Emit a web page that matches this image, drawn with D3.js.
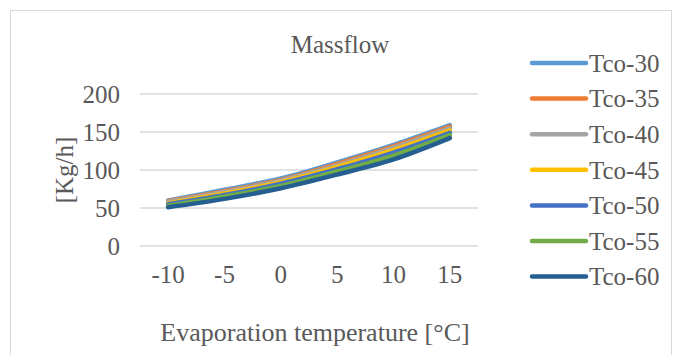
<!DOCTYPE html>
<html>
<head>
<meta charset="utf-8">
<script src="https://cdn.jsdelivr.net/npm/d3@7"></script>
<style>
  body { margin: 0; background: #fff; }
  text { font-family: "Liberation Serif", "Times New Roman", serif; fill: #595959; }
</style>
</head>
<body>
<div id="main"></div>
<script>
// evaporation temperatures (categories)
const temps = ['-10', '-5', '0', '5', '10', '15'];
const seriesNames = ['Tco-30', 'Tco-35', 'Tco-40', 'Tco-45', 'Tco-50', 'Tco-55', 'Tco-60'];
const colors = ['#5B9BD5', '#ED7D31', '#A5A5A5', '#FFC000', '#4472C4', '#70AD47', '#255E91'];

const tco30 = [60, 74, 89, 110, 133, 159];
const tco35 = [59, 72, 87, 108, 131, 157];
const tco40 = [58, 71, 86, 106, 129, 155];
const tco45 = [56, 69, 84, 104, 126, 152];
const tco50 = [55, 67, 82, 101, 123, 149];
const tco55 = [53, 65, 79, 98, 119, 146];
const tco60 = [51, 62, 76, 94, 114, 142];

const yTicks = [0, 50, 100, 150, 200];

const allSeries = [tco30, tco35, tco40, tco45, tco50, tco55, tco60];

const W = 674, H = 355;
const margin = { top: 94, left: 140, right: 196, bottom: 109 };
const plotW = W - margin.left - margin.right;
const plotH = H - margin.top - margin.bottom;

const svg = d3.select('#main').append('svg')
  .attr('width', W)
  .attr('height', H);

// chart border
svg.append('rect')
  .attr('x', 10.5).attr('y', 10.5)
  .attr('width', 661).attr('height', 360)
  .attr('fill', 'none')
  .attr('stroke', '#d9d9d9')
  .attr('stroke-width', 1);

const g = svg.append('g')
  .attr('transform', 'translate(' + margin.left + ',' + margin.top + ')');

const x = d3.scalePoint()
  .domain(temps)
  .range([0, plotW])
  .padding(0.5);

const y = d3.scaleLinear()
  .domain([0, 200])
  .range([plotH, 0]);

// gridlines
g.selectAll('.grid')
  .data(yTicks)
.enter().append('line')
  .attr('class', 'grid')
  .attr('x1', 0).attr('x2', plotW)
  .attr('y1', d => y(d)).attr('y2', d => y(d))
  .attr('stroke', '#d9d9d9')
  .attr('stroke-width', 1.3);

// y tick labels
g.selectAll('.ylab')
  .data(yTicks)
.enter().append('text')
  .attr('class', 'ylab')
  .attr('x', -20)
  .attr('y', d => y(d))
  .attr('dy', '0.35em')
  .attr('text-anchor', 'end')
  .attr('font-size', 25)
  .text(d => d);

// x tick labels
g.selectAll('.xlab')
  .data(temps)
.enter().append('text')
  .attr('class', 'xlab')
  .attr('x', d => x(d))
  .attr('y', plotH + 37)
  .attr('text-anchor', 'middle')
  .attr('font-size', 25)
  .text(d => d);

// series lines
const line = d3.line()
  .x((d, i) => x(temps[i]))
  .y(d => y(d))
  .curve(d3.curveCatmullRom.alpha(0.5));

allSeries.forEach((s, i) => {
  g.append('path')
    .datum(s)
    .attr('d', line)
    .attr('fill', 'none')
    .attr('stroke', colors[i])
    .attr('stroke-width', 4.5)
    .attr('stroke-linecap', 'round')
    .attr('stroke-linejoin', 'round');
});

// title
svg.append('text')
  .attr('x', 340)
  .attr('y', 53)
  .attr('text-anchor', 'middle')
  .attr('font-size', 25)
  .text('Massflow');

// axis titles
svg.append('text')
  .attr('x', 315)
  .attr('y', 341)
  .attr('text-anchor', 'middle')
  .attr('font-size', 26)
  .text('Evaporation temperature [°C]');

svg.append('text')
  .attr('transform', 'translate(73,170) rotate(-90)')
  .attr('text-anchor', 'middle')
  .attr('font-size', 25)
  .text('[Kg/h]');

// legend
const legend = svg.selectAll('.legend')
  .data(seriesNames)
.enter().append('g')
  .attr('class', 'legend')
  .attr('transform', (d, i) => 'translate(530,' + (63 + i * 35.6) + ')');

legend.append('line')
  .attr('x1', 2).attr('x2', 56)
  .attr('y1', 0).attr('y2', 0)
  .attr('stroke', (d, i) => colors[i])
  .attr('stroke-width', 4.5)
  .attr('stroke-linecap', 'round');

legend.append('text')
  .attr('x', 59)
  .attr('y', 0)
  .attr('dy', '0.35em')
  .attr('font-size', 25)
  .text(d => d);
</script>
</body>
</html>
